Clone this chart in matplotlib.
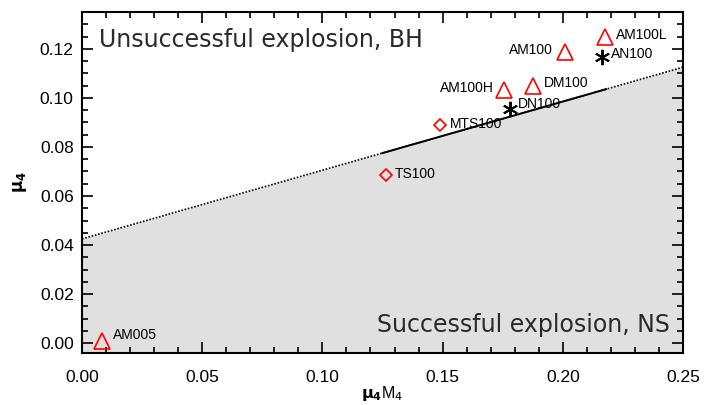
import numpy as np
import matplotlib
matplotlib.use("Agg")
import matplotlib.pyplot as plt
from matplotlib.ticker import MultipleLocator

plt.rcParams['font.family'] = ['Liberation Sans', 'DejaVu Sans']
plt.rcParams['mathtext.fontset'] = 'dejavusans'

# Models: explosion parameter mu4*M4 versus mu4
tri_names = ["AM005", "AM100H", "DM100", "AM100", "AM100L"]
tri_x = [0.0082, 0.1755, 0.1875, 0.2009, 0.2175]
tri_y = [0.0010, 0.1033, 0.1050, 0.1186, 0.1249]

dia_names = ["TS100", "MTS100"]
dia_x = [0.1263, 0.1489]
dia_y = [0.0686, 0.0890]

ast_names = ["DN100", "AN100"]
ast_x = [0.1780, 0.2162]
ast_y = [0.0955, 0.1167]

# Separation line mu4 = k1 * (mu4 M4) + k2
k1 = 0.28
k2 = 0.0425
solid_range = (0.125, 0.218)

xlim = (0.0, 0.25)
ylim = (-0.004, 0.135)

fig = plt.figure(figsize=(7.04, 4.05), dpi=100)
ax = fig.add_axes([82/704, 1 - 353/405, 601/704, 341/405])

xx = np.linspace(xlim[0], xlim[1], 200)
ax.fill_between(xx, ylim[0], k1 * xx + k2, color="#e0e0e0", lw=0, zorder=0)

ax.plot(xx, k1 * xx + k2, color="black", lw=1.2, ls=(0, (1, 1)), zorder=1)
xs = np.linspace(*solid_range, 50)
ax.plot(xs, k1 * xs + k2, color="black", lw=1.4, zorder=2)

ax.plot(tri_x, tri_y, ls="none", marker="^", ms=11, mfc="none", mec="red", mew=1.2, zorder=3)
ax.plot(dia_x, dia_y, ls="none", marker="D", ms=6.5, mfc="none", mec="red", mew=1.2, zorder=3)
ax.plot(ast_x, ast_y, ls="none", marker=(6, 2, 0), ms=11, color="black", mew=1.4, zorder=3)

lab_fs = 10
# point labels: (x, y, dx, dy, ha)
labels = {
    "AM005": (0.0082, 0.0010, 0.0045, 0.0025, "left"),
    "AM100H": (0.1755, 0.1033, -0.0040, 0.0008, "right"),
    "DM100": (0.1875, 0.1050, 0.0045, 0.0010, "left"),
    "AM100": (0.2009, 0.1186, -0.0050, 0.0010, "right"),
    "AM100L": (0.2175, 0.1249, 0.0045, 0.0008, "left"),
    "TS100": (0.1263, 0.0686, 0.0040, 0.0005, "left"),
    "MTS100": (0.1489, 0.0890, 0.0040, 0.0005, "left"),
    "DN100": (0.1780, 0.0955, 0.0035, 0.0018, "left"),
    "AN100": (0.2162, 0.1167, 0.0040, 0.0012, "left"),
}
for name, (x, y, dx, dy, ha) in labels.items():
    ax.text(x + dx, y + dy, name, ha=ha, va="center", fontsize=lab_fs, color="black", zorder=4)

region_font = dict(fontsize=17, color="#2a2a2a", family=["DejaVu Sans"])
ax.text(0.0072, 0.1236, "Unsuccessful explosion, BH", ha="left", va="center", **region_font)
ax.text(0.2445, 0.0073, "Successful explosion, NS", ha="right", va="center", **region_font)

ax.set_xlim(*xlim)
ax.set_ylim(*ylim)
ax.xaxis.set_major_locator(MultipleLocator(0.05))
ax.xaxis.set_minor_locator(MultipleLocator(0.01))
ax.yaxis.set_major_locator(MultipleLocator(0.02))
ax.yaxis.set_minor_locator(MultipleLocator(0.005))
ax.xaxis.set_major_formatter(plt.FormatStrFormatter("%.2f"))
ax.yaxis.set_major_formatter(plt.FormatStrFormatter("%.2f"))
ax.tick_params(which="both", direction="in", top=True, right=True, width=1.2, labelsize=12.5)
ax.tick_params(which="major", length=8)
ax.tick_params(axis="y", which="major", pad=6)
ax.tick_params(axis="x", which="major", pad=12)
ax.tick_params(which="minor", length=4)
for s in ax.spines.values():
    s.set_linewidth(1.5)

ax.set_xlabel(r"$\mathbf{\mu_4}$M$_4$", fontsize=11.5, va="center")
ax.xaxis.set_label_coords(0.5, -0.118)
ax.set_ylabel(r"$\mathbf{\mu_4}$", fontsize=12, labelpad=8)

fig.savefig("out.png", dpi=100)
